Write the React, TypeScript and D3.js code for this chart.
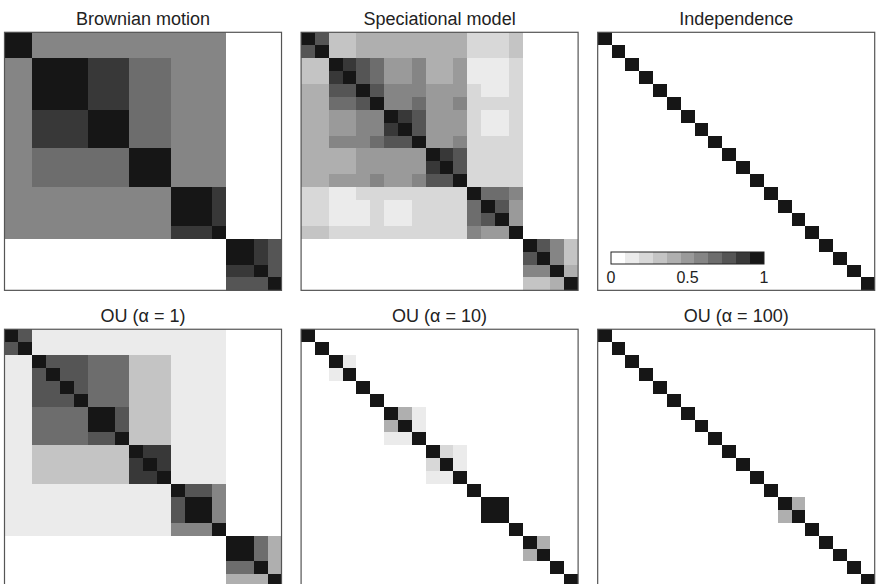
import React from 'react';
import * as d3 from 'd3';

const width = 880;
const height = 584;

// panel titles, row by row
const titles = [
  'Brownian motion',
  'Speciational model',
  'Independence',
  'OU (\u03b1 = 1)',
  'OU (\u03b1 = 10)',
  'OU (\u03b1 = 100)',
];

// correlation matrices, one string per row, each char = tenths (a = 1.0)
const brownian = [
  'aa666666666666660000',
  'aa666666666666660000',
  '66aaaa99977766660000',
  '66aaaa99977766660000',
  '66aaaa99977766660000',
  '66aaaa99977766660000',
  '669999aaa77766660000',
  '669999aaa77766660000',
  '669999aaa77766660000',
  '667777777aaa66660000',
  '667777777aaa66660000',
  '667777777aaa66660000',
  '666666666666aaa90000',
  '666666666666aaa90000',
  '666666666666aaa90000',
  '666666666666999a0000',
  '0000000000000000aa98',
  '0000000000000000aa98',
  '000000000000000099a8',
  '0000000000000000888a',
];

const speciational = [
  'a8334444444422230000',
  '8a334444444422230000',
  '33a98755644511120000',
  '339a8755644511120000',
  '4488a866655521120000',
  '44778a66755622220000',
  '445566a9855521120000',
  '4455669a855521120000',
  '44666788a55622220000',
  '444455555a9822220000',
  '4444555559a822220000',
  '44555655688a22220000',
  '221122222222a7760000',
  '2211121122227a850000',
  '22111211222278a50000',
  '332222222222655a0000',
  '0000000000000000a863',
  '00000000000000008a63',
  '000000000000000066a4',
  '0000000000000000334a',
];

const independence = [
  'a0000000000000000000',
  '0a000000000000000000',
  '00a00000000000000000',
  '000a0000000000000000',
  '0000a000000000000000',
  '00000a00000000000000',
  '000000a0000000000000',
  '0000000a000000000000',
  '00000000a00000000000',
  '000000000a0000000000',
  '0000000000a000000000',
  '00000000000a00000000',
  '000000000000a0000000',
  '0000000000000a000000',
  '00000000000000a00000',
  '000000000000000a0000',
  '0000000000000000a000',
  '00000000000000000a00',
  '000000000000000000a0',
  '0000000000000000000a',
];

const ou1 = [
  'a8111111111111110000',
  '8a111111111111110000',
  '11a88877733311110000',
  '118a8877733311110000',
  '1188a877733311110000',
  '11888a77733311110000',
  '117777aa833311110000',
  '117777aa833311110000',
  '11777788a33311110000',
  '113333333a9911110000',
  '1133333339a911110000',
  '11333333399a11110000',
  '111111111111a8860000',
  '1111111111118aa60000',
  '1111111111118aa60000',
  '111111111111666a0000',
  '0000000000000000aa74',
  '0000000000000000aa74',
  '000000000000000077a4',
  '0000000000000000444a',
];

const ou10 = [
  'a0000000000000000000',
  '0a000000000000000000',
  '00a10000000000000000',
  '001a0000000000000000',
  '0000a000000000000000',
  '00000a00000000000000',
  '000000a4100000000000',
  '0000004a100000000000',
  '00000011a00000000000',
  '000000000a2100000000',
  '0000000002a100000000',
  '00000000011a00000000',
  '000000000000a0000000',
  '0000000000000aa00000',
  '0000000000000aa00000',
  '000000000000000a0000',
  '0000000000000000a400',
  '00000000000000004a00',
  '000000000000000000a0',
  '0000000000000000000a',
];

const ou100 = [
  'a0000000000000000000',
  '0a000000000000000000',
  '00a00000000000000000',
  '000a0000000000000000',
  '0000a000000000000000',
  '00000a00000000000000',
  '000000a0000000000000',
  '0000000a000000000000',
  '00000000a00000000000',
  '000000000a0000000000',
  '0000000000a000000000',
  '00000000000a00000000',
  '000000000000a0000000',
  '0000000000000a400000',
  '00000000000004a00000',
  '000000000000000a0000',
  '0000000000000000a000',
  '00000000000000000a00',
  '000000000000000000a0',
  '0000000000000000000a',
];

const matrices = [brownian, speciational, independence, ou1, ou10, ou100];

// legend: grey swatches and their values
const legendValues = [0, 0.1, 0.2, 0.3, 0.4, 0.5, 0.6, 0.7, 0.8, 0.9, 1];
const legendTicks = [0, 0.5, 1];
const greys = [
  '#ffffff', '#ebebeb', '#d8d8d8', '#c4c4c4', '#afafaf', '#9a9a9a',
  '#858585', '#6d6d6d', '#555555', '#383838', '#161616',
];
const thresholds = [0.05, 0.15, 0.25, 0.35, 0.45, 0.55, 0.65, 0.75, 0.85, 0.95];

const font = '"Liberation Sans", Arial, Helvetica, sans-serif';

const parseRow = (row: string) => row.split('').map(c => parseInt(c, 11) / 10);

export default function App() {
  const color = d3.scaleThreshold<number, string>().domain(thresholds).range(greys);

  const colX = d3.scaleBand<number>().domain([0, 1, 2]).range([4.5, 874.7]).paddingInner(0.066);
  const rowY = d3.scaleBand<number>().domain([0, 1]).range([32.3, 587.3]).paddingInner(0.131);
  const pw = colX.bandwidth();
  const ph = rowY.bandwidth();

  // legend scales (inside Independence panel)
  const legX = d3.scaleBand<number>().domain(legendValues).range([611, 764]);
  const legTick = d3.scaleLinear().domain([0, 1]).range([611, 764]);

  return (
    <svg width={width} height={height} style={{ position: 'absolute', left: 0, top: 0 }}>
      <rect width={width} height={height} fill="#fff" />
      {matrices.map((m, k) => {
        const px = colX(k % 3)!;
        const py = rowY(Math.floor(k / 3))!;
        const n = m.length;
        const x = d3.scaleBand<number>().domain(d3.range(n)).range([0, pw]);
        const y = d3.scaleBand<number>().domain(d3.range(n)).range([0, ph]);
        const values = m.map(parseRow);
        return (
          <g key={k} transform={`translate(${px},${py})`}>
            <g shapeRendering="crispEdges">
              {values.map((row, i) =>
                row.map((v, j) => (
                  <rect
                    key={`${i}-${j}`}
                    x={x(j)}
                    y={y(i)}
                    width={x.bandwidth() + 0.3}
                    height={y.bandwidth() + 0.3}
                    fill={color(v)}
                  />
                ))
              )}
            </g>
            <rect width={pw} height={ph} fill="none" stroke="#555" strokeWidth={1.2} />
            <text
              x={pw / 2}
              y={-7.3}
              textAnchor="middle"
              fontFamily={font}
              fontSize={18}
              fill="#222"
            >
              {titles[k]}
            </text>
          </g>
        );
      })}
      <g>
        <g shapeRendering="crispEdges">
          {legendValues.map(v => (
            <rect
              key={v}
              x={legX(v)}
              y={252}
              width={legX.bandwidth() + 0.3}
              height={12}
              fill={color(v)}
            />
          ))}
        </g>
        <rect x={611} y={252} width={153} height={12} fill="none" stroke="#222" strokeWidth={1} />
        {legendTicks.map(t => (
          <text
            key={t}
            x={legTick(t)}
            y={282.7}
            textAnchor="middle"
            fontFamily={font}
            fontSize={16}
            fill="#222"
          >
            {t}
          </text>
        ))}
      </g>
    </svg>
  );
}
